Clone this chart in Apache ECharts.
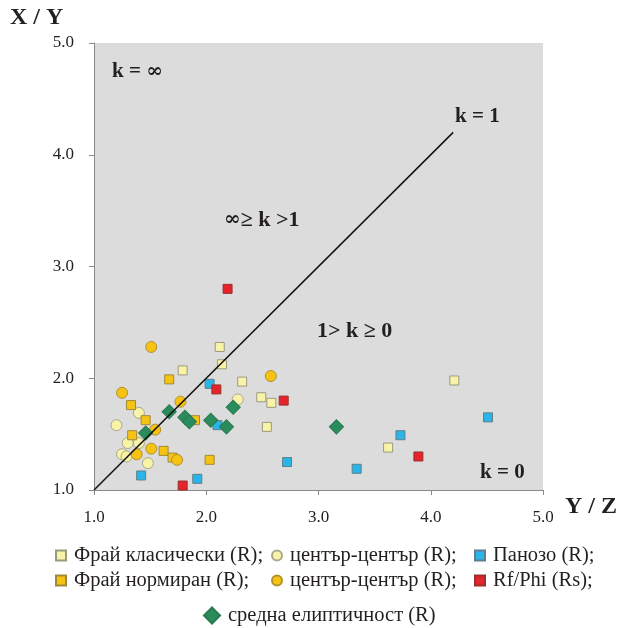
<!DOCTYPE html>
<html>
<head>
<meta charset="utf-8">
<script src="https://cdn.jsdelivr.net/npm/echarts@6/dist/echarts.min.js"></script>
<style>
  html, body { margin: 0; padding: 0; background: #fff; }
  #chart { width: 631px; height: 628px; }
</style>
</head>
<body>
<div id="chart"></div>
<script>
var chart = echarts.init(document.getElementById('chart'));

// axis ticks (both axes share the same range)
const ticks = [1, 2, 3, 4, 5];

// legend labels, keyed by series id
const labels = {
  fc: 'Фрай класически (R);',
  ccl: 'център-център (R);',
  pan: 'Панозо (R);',
  fn: 'Фрай нормиран (R);',
  ccg: 'център-център (R);',
  rf: 'Rf/Phi (Rs);',
  ell: 'средна елиптичност (R)'
};

// [Y/Z, X/Y]
const fryClassic = [[2.12, 2.28], [2.14, 2.125], [1.79, 2.07], [2.32, 1.97], [2.49, 1.83],
  [2.58, 1.78], [2.54, 1.565], [4.21, 1.98], [3.62, 1.38]];
const ccLight = [[2.28, 1.81], [1.40, 1.69], [1.20, 1.58], [1.30, 1.42], [1.40, 1.42],
  [1.25, 1.32], [1.29, 1.30], [1.48, 1.24]];
const panozo = [[2.03, 1.95], [2.10, 1.58], [1.42, 1.13], [1.92, 1.10], [4.51, 1.65],
  [3.73, 1.49], [3.34, 1.19], [2.72, 1.25]];
const fryNorm = [[1.67, 1.99], [1.33, 1.76], [1.90, 1.625], [1.46, 1.625], [1.34, 1.49],
  [1.62, 1.35], [1.70, 1.29], [2.03, 1.27]];
const ccGold = [[1.51, 2.28], [2.575, 2.02], [1.25, 1.87], [1.77, 1.79], [1.545, 1.54],
  [1.38, 1.32], [1.51, 1.37], [1.74, 1.27]];
const rfPhi = [[2.19, 2.80], [2.09, 1.90], [2.69, 1.80], [3.89, 1.30], [1.79, 1.04]];
const ellipticity = [[1.67, 1.70], [2.24, 1.74], [1.81, 1.65], [1.85, 1.61], [2.04, 1.625],
  [2.18, 1.565], [1.46, 1.51], [3.16, 1.565]];
const kLine = [[1, 1], [4.2, 4.2]];

const serif = 'Liberation Serif';

function sq(name, data, color, border) {
  return {
    name: name, type: 'scatter', data: data, symbol: 'rect', symbolSize: 9,
    itemStyle: { color: color, borderColor: border, borderWidth: 1, opacity: 1 }
  };
}
function dot(name, data, color, border) {
  return {
    name: name, type: 'scatter', data: data, symbol: 'circle', symbolSize: 11,
    itemStyle: { color: color, borderColor: border, borderWidth: 1, opacity: 1 }
  };
}

const legendBase = {
  orient: 'vertical',
  itemGap: 4,
  itemWidth: 10,
  itemHeight: 10,
  formatter: function (n) { return labels[n]; },
  textStyle: { fontFamily: serif, fontSize: 20.5, color: '#231f20', lineHeight: 20, padding: [0, 0, 0, 3] }
};

function axis(margin) {
  return {
    type: 'value', min: 1, max: 5, interval: 1,
    splitLine: { show: false },
    axisLine: { show: true, lineStyle: { color: '#8a8a8a', width: 1 } },
    axisTick: { show: true, length: 5, lineStyle: { color: '#8a8a8a' } },
    axisLabel: {
      fontFamily: serif, fontSize: 17, color: '#231f20', margin: margin,
      formatter: function (v) { return ticks.indexOf(v) >= 0 ? v.toFixed(1) : ''; }
    }
  };
}

const rich = {
  t: { fontFamily: serif, fontWeight: 'bold', fontSize: 21, fill: '#231f20' },
  r: { fontFamily: serif, fontWeight: 'bold', fontSize: 22, fill: '#231f20' },
  inf: { fontFamily: 'DejaVu Serif', fontWeight: 'bold', fontSize: 20, fill: '#231f20' }
};

function txt(x, y, s, size) {
  return {
    type: 'text', left: x, top: y,
    style: { text: s, rich: rich, fontFamily: serif, fontWeight: 'bold', fontSize: size, fill: '#231f20' }
  };
}

option = {
  animation: false,
  backgroundColor: '#fff',
  grid: { left: 94, right: 88, top: 43, bottom: 138, show: true, backgroundColor: '#dcdcdc', borderWidth: 0 },
  xAxis: axis(19),
  yAxis: axis(20),
  legend: [
    Object.assign({}, legendBase, { left: 50, top: 540, data: ['fc', 'fn'] }),
    Object.assign({}, legendBase, { left: 266, top: 540, data: ['ccl', 'ccg'] }),
    Object.assign({}, legendBase, { left: 469, top: 540, data: ['pan', 'rf'] }),
    Object.assign({}, legendBase, {
      left: 198, top: 600, itemWidth: 16, itemHeight: 16,
      data: [{ name: 'ell', icon: 'diamond' }]
    })
  ],
  graphic: [
    txt(10, 6, 'X / Y', 24),
    txt(565, 495, 'Y / Z', 24),
    txt(112, 61, '{t|k = }{inf|∞}', 21),
    txt(455, 106, 'k = 1', 21),
    txt(224, 209, '{inf|∞}{r|≥ k >1}', 22),
    txt(317, 320, '{r|1> k ≥ 0}', 22),
    txt(480, 462, 'k = 0', 21)
  ],
  series: [
    sq('fc', fryClassic, '#f8f3a6', '#9a9a80'),
    dot('ccl', ccLight, '#f8f3a6', '#a8a890'),
    sq('pan', panozo, '#29b5e8', '#5f7f8a'),
    sq('fn', fryNorm, '#f7c313', '#a08a3a'),
    dot('ccg', ccGold, '#f7c313', '#b09030'),
    sq('rf', rfPhi, '#e5232a', '#9a3030'),
    {
      name: 'ell', type: 'scatter', data: ellipticity, symbol: 'rect', symbolSize: 10, symbolRotate: 45,
      itemStyle: { color: '#2a8c5c', borderColor: '#2a7a50', borderWidth: 1, opacity: 1 }
    },
    {
      name: 'k1', type: 'line', data: kLine, showSymbol: false, silent: true, z: 5,
      lineStyle: { color: '#111', width: 1.5 }
    }
  ]
};

option && chart.setOption(option);
</script>
</body>
</html>
